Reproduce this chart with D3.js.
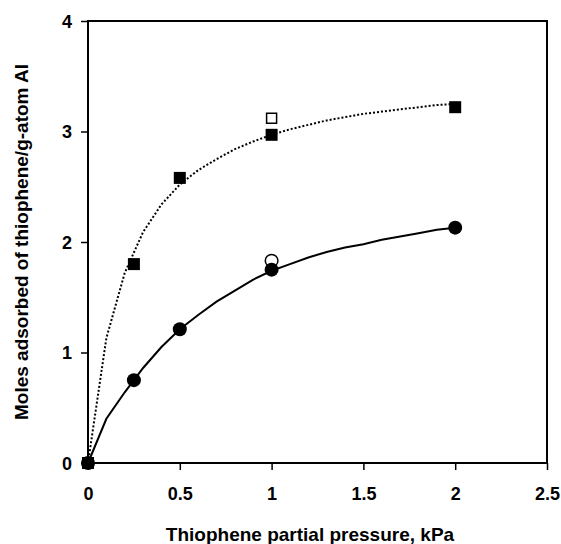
<!DOCTYPE html>
<html>
<head>
<meta charset="utf-8">
<script src="https://cdn.jsdelivr.net/npm/d3@7"></script>
<style>
body{margin:0;background:#fff;}
text{font-family:"Liberation Sans",Arial,sans-serif;font-weight:bold;fill:#000;}
</style>
</head>
<body>
<svg id="c" width="561" height="544"></svg>
<script>
// Data
const squareX = [0, 0.25, 0.5, 1, 2];
const squareY = [0, 1.80, 2.58, 2.97, 3.22];
const openSquareX = [1];
const openSquareY = [3.12];
const circleX = [0, 0.25, 0.5, 1, 2];
const circleY = [0, 0.75, 1.21, 1.75, 2.13];
const openCircleX = [1];
const openCircleY = [1.83];
const curveX = [0, 0.1, 0.2, 0.3, 0.4, 0.5, 0.6, 0.7, 0.8, 0.9, 1.0, 1.1, 1.2, 1.3, 1.4, 1.5, 1.6, 1.7, 1.8, 1.9, 2.0];
const dottedCurveY = [0, 1.13, 1.72, 2.09, 2.34, 2.52, 2.65, 2.75, 2.84, 2.91, 2.97, 3.02, 3.06, 3.10, 3.13, 3.16, 3.18, 3.20, 3.22, 3.24, 3.25];
const solidCurveY = [0, 0.40, 0.64, 0.86, 1.05, 1.21, 1.34, 1.46, 1.56, 1.66, 1.74, 1.80, 1.86, 1.91, 1.95, 1.98, 2.02, 2.05, 2.08, 2.11, 2.13];
const xTicks = [0, 0.5, 1, 1.5, 2, 2.5];
const yTicks = [0, 1, 2, 3, 4];
const xTitle = "Thiophene partial pressure, kPa";
const yTitle = "Moles adsorbed of thiophene/g-atom Al";

const svg = d3.select("#c");
const L = 88, R = 547, T = 21, B = 463;
const x = d3.scaleLinear().domain([0, 2.5]).range([L, R]);
const y = d3.scaleLinear().domain([0, 4]).range([B, T]);

// axes
const gx = svg.append("g").attr("transform", `translate(0,${B})`)
  .call(d3.axisBottom(x).tickValues(xTicks).tickFormat(d3.format("")).tickSize(7).tickPadding(17));
const gy = svg.append("g").attr("transform", `translate(${L},0)`)
  .call(d3.axisLeft(y).tickValues(yTicks).tickFormat(d3.format("")).tickSize(7).tickPadding(9));
[gx, gy].forEach(g => {
  g.select(".domain").remove();
  g.selectAll(".tick line").attr("stroke", "#000").attr("stroke-width", 1.5);
  g.selectAll(".tick text").style("font-size", "18px").style("font-family", '"Liberation Sans",Arial,sans-serif').style("font-weight", "bold").attr("fill", "#000");
});
gx.selectAll(".tick text").attr("dy", "0.71em");
gy.selectAll(".tick text").attr("dy", "0.36em");

// frame
svg.append("rect").attr("x", L).attr("y", T).attr("width", R - L).attr("height", B - T)
  .attr("fill", "none").attr("stroke", "#000").attr("stroke-width", 2);

// curves
const line = d3.line().x(d => x(d[0])).y(d => y(d[1]));
svg.append("path").datum(curveX.map((v, i) => [v, dottedCurveY[i]]))
  .attr("d", line).attr("fill", "none").attr("stroke", "#000")
  .attr("stroke-width", 2).attr("stroke-dasharray", "2,2");
svg.append("path").datum(curveX.map((v, i) => [v, solidCurveY[i]]))
  .attr("d", line).attr("fill", "none").attr("stroke", "#000").attr("stroke-width", 2);

// open markers
const os = 10;
svg.selectAll(".osq").data(openSquareX.map((v, i) => [v, openSquareY[i]])).enter().append("rect")
  .attr("x", d => x(d[0]) - os / 2).attr("y", d => y(d[1]) - os / 2)
  .attr("width", os).attr("height", os).attr("fill", "#fff").attr("stroke", "#000").attr("stroke-width", 1.5);
svg.selectAll(".oci").data(openCircleX.map((v, i) => [v, openCircleY[i]])).enter().append("circle")
  .attr("cx", d => x(d[0])).attr("cy", d => y(d[1])).attr("r", 6.3)
  .attr("fill", "#fff").attr("stroke", "#000").attr("stroke-width", 1.5);

// filled markers
const fs = 12;
svg.selectAll(".fsq").data(squareX.map((v, i) => [v, squareY[i]])).enter().append("rect")
  .attr("x", d => x(d[0]) - fs / 2).attr("y", d => y(d[1]) - fs / 2)
  .attr("width", fs).attr("height", fs).attr("fill", "#000");
svg.selectAll(".fci").data(circleX.map((v, i) => [v, circleY[i]])).enter().append("circle")
  .attr("cx", d => x(d[0])).attr("cy", d => y(d[1])).attr("r", 7).attr("fill", "#000");

// titles
svg.append("text").attr("x", 310).attr("y", 541).attr("text-anchor", "middle")
  .style("font-size", "19px").text(xTitle);
svg.append("text").attr("transform", `translate(28,${(T + B) / 2}) rotate(-90)`)
  .attr("text-anchor", "middle").style("font-size", "19px").text(yTitle);
</script>
</body>
</html>
